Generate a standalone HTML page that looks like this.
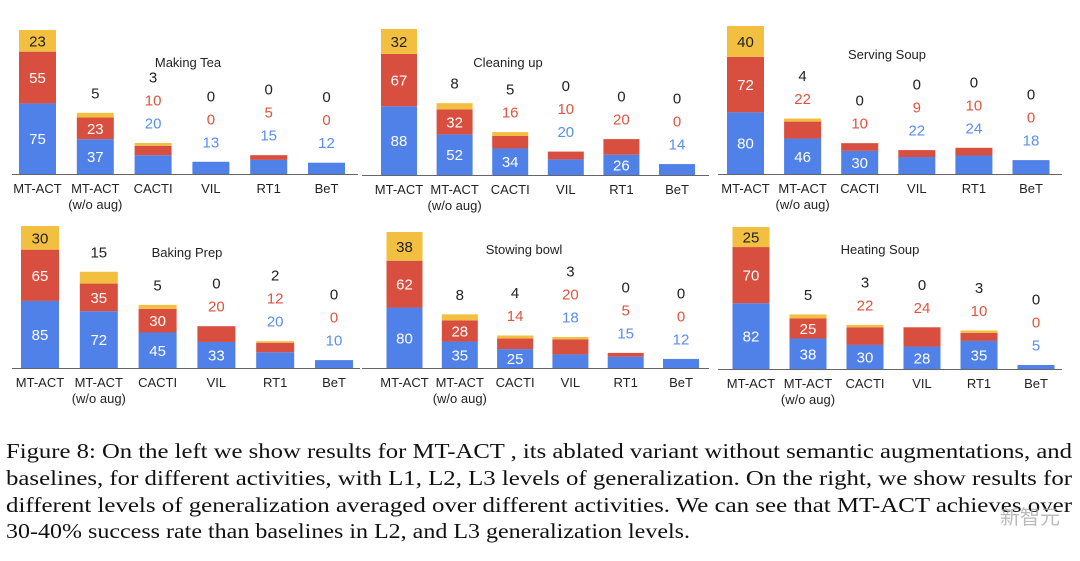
<!DOCTYPE html>
<html><head><meta charset="utf-8">
<style>
html,body{margin:0;padding:0;background:#fff;width:1080px;height:561px;overflow:hidden}
svg{display:block}
</style></head>
<body>
<svg id="fig" width="1080" height="561" viewBox="0 0 1080 561" xmlns="http://www.w3.org/2000/svg">
<g id="charts"></g>
<g font-family="Liberation Serif, serif" font-size="21" fill="#111">
<text x="6" y="458" textLength="1066" lengthAdjust="spacingAndGlyphs">Figure 8: On the left we show results for MT-ACT , its ablated variant without semantic augmentations, and</text>
<text x="6" y="485" textLength="1066" lengthAdjust="spacingAndGlyphs">baselines, for different activities, with L1, L2, L3 levels of generalization.  On the right, we show results for</text>
<text x="6" y="512" textLength="1066" lengthAdjust="spacingAndGlyphs">different levels of generalization averaged over different activities.  We can see that MT-ACT achieves over</text>
<text x="6" y="538" textLength="684" lengthAdjust="spacingAndGlyphs">30-40% success rate than baselines in L2, and L3 generalization levels.</text>
</g>
<text x="1000" y="524" font-family="Liberation Sans, Noto Sans CJK SC, sans-serif" font-size="20" fill="#aaa" fill-opacity="0.8">新智元</text>
</svg>
<script>
const categories = ["MT-ACT","MT-ACT\n(w/o aug)","CACTI","VIL","RT1","BeT"];
const titles = ["Making Tea","Cleaning up","Serving Soup","Baking Prep","Stowing bowl","Heating Soup"];
const l1 = [[75,37,20,13,15,12],[88,52,34,20,26,14],[80,46,30,22,24,18],[85,72,45,33,20,10],[80,35,25,18,15,12],[82,38,30,28,35,5]];
const l2 = [[55,23,10,0,5,0],[67,32,16,10,20,0],[72,22,10,9,10,0],[65,35,30,20,12,0],[62,28,14,20,5,0],[70,25,22,24,10,0]];
const l3 = [[23,5,3,0,0,0],[32,8,5,0,0,0],[40,4,0,0,0,0],[30,15,5,0,2,0],[38,8,4,3,0,0],[25,5,3,0,3,0]];

const panels = [
 {x0:12,x1:358,base:174,first:37.5,step:57.8,bw:37,maxH:144,tx:188,ty:62},
 {x0:362,x1:709,base:175,first:399,step:55.6,bw:36,maxH:146,tx:508,ty:62},
 {x0:718,x1:1062,base:174,first:745.5,step:57.1,bw:37,maxH:148,tx:887,ty:54},
 {x0:12,x1:360,base:368,first:40,step:58.8,bw:38,maxH:142,tx:187,ty:252},
 {x0:362,x1:709,base:368,first:404.5,step:55.3,bw:36,maxH:136,tx:524,ty:249},
 {x0:718,x1:1062,base:369,first:751,step:57,bw:37,maxH:142,tx:880,ty:249}
];
const NS="http://www.w3.org/2000/svg";
const root=document.getElementById('charts');
function mk(tag,attrs,parent){const e=document.createElementNS(NS,tag);for(const k in attrs)e.setAttribute(k,attrs[k]);parent.appendChild(e);return e;}
const COL={b:"#4f81e8",r:"#d94f3f",y:"#f2bf41"};
const TXT={b:"#5a8ef0",r:"#e2533f",y:"#222"};
panels.forEach((p,pi)=>{
  const g=mk('g',{},root);
  
  
  const totals=categories.map((c,i)=>l1[pi][i]+l2[pi][i]+l3[pi][i]);
  const k=p.maxH/Math.max(...totals);
  const yv=v=>v*k;
  const t=mk('text',{x:p.tx,y:p.ty+5,'text-anchor':'middle','font-family':'Liberation Sans, sans-serif','font-size':13,fill:'#222'},g);
  t.textContent=titles[pi];
  
  
  categories.forEach((c,i)=>{
    const cx=p.first+i*p.step, x=cx-p.bw/2;
    const segs=[['b',l1[pi][i]],['r',l2[pi][i]],['y',l3[pi][i]]];
    let top=p.base;
    const above=[];
    segs.forEach(([s,v])=>{
      const h=yv(v);
      if(h>0){
        const r=mk('rect',{x:x,y:top-h,width:p.bw,height:h,fill:COL[s]},g);
        
        
      }
      if(v>=25 || h>=21){
        const tt=mk('text',{x:cx,y:top-h/2+5.5,'text-anchor':'middle','font-family':'Liberation Sans, sans-serif','font-size':15,fill:s==='y'?'#222':'#fff'},g);
        tt.textContent=v;
        
        
      } else above.push([s,v]);
      top-=h;
    });
    let ly=top-20;
    above.forEach(([s,v])=>{
      const tt=mk('text',{x:cx,y:ly+5.5,'text-anchor':'middle','font-family':'Liberation Sans, sans-serif','font-size':15,fill:TXT[s]},g);
      tt.textContent=v;
      
      
      ly-=23;
    });
    c.split('\n').forEach((ln,j)=>{
      const lt=mk('text',{x:cx,y:p.base+19+j*16,'text-anchor':'middle','font-family':'Liberation Sans, sans-serif','font-size':13,fill:'#222'},g);
      lt.textContent=ln;
      
      
    });
  });
  const ax=mk('line',{x1:p.x0,x2:p.x1,y1:p.base+0.5,y2:p.base+0.5,stroke:'#666','stroke-width':1},g);
  
  
});
</script>
</body></html>
